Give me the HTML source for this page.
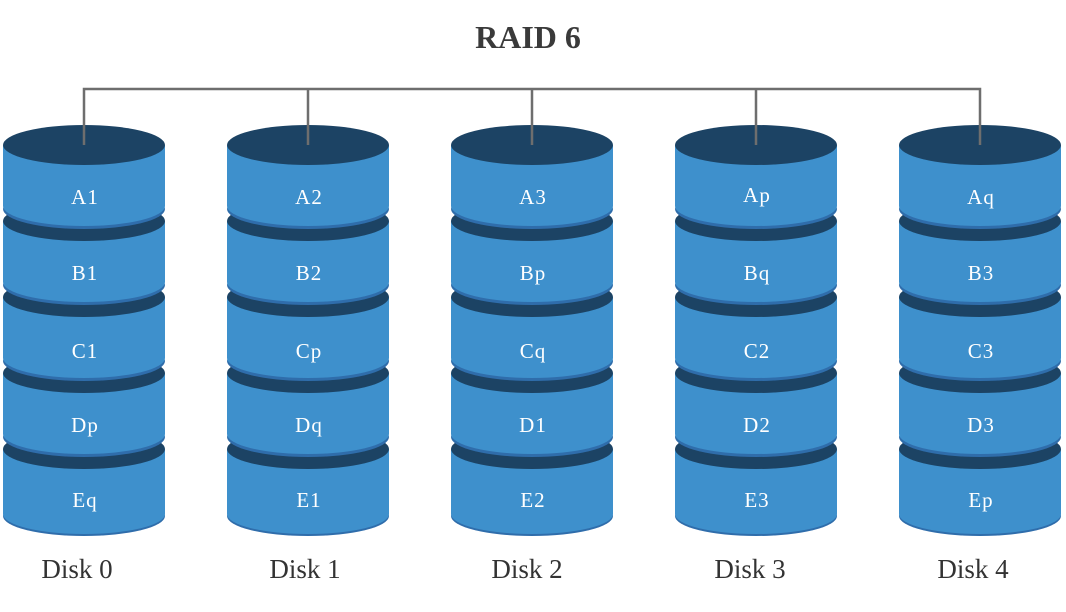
<!DOCTYPE html>
<html><head><meta charset="utf-8"><style>
html,body{margin:0;padding:0;background:#fff;}
svg{display:block;}
</style></head><body>
<svg width="1066" height="612" viewBox="0 0 1066 612" xmlns="http://www.w3.org/2000/svg">
<defs>
<g id="seg">
<ellipse cx="0" cy="64" rx="81" ry="20" fill="#2f6dab"/>
<path d="M-81,0 L-81,61 A81,20 0 0 0 81,61 L81,0 Z" fill="#3e90cc"/>
<ellipse cx="0" cy="0" rx="81" ry="20" fill="#1c4364"/>
</g>
<g id="segLast">
<ellipse cx="0" cy="67" rx="81" ry="20" fill="#2f6dab"/>
<path d="M-81,0 L-81,65 A81,20 0 0 0 81,65 L81,0 Z" fill="#3e90cc"/>
<ellipse cx="0" cy="0" rx="81" ry="20" fill="#1c4364"/>
</g>
<g id="disk">
<use href="#segLast" y="449"/>
<use href="#seg" y="373"/>
<use href="#seg" y="297"/>
<use href="#seg" y="221"/>
<use href="#seg" y="145"/>
</g>
</defs>
<text x="528" y="48" text-anchor="middle" font-family="Liberation Serif, serif" font-weight="bold" font-size="32" fill="#3a3a3a">RAID 6</text>
<use href="#disk" x="84"/>
<use href="#disk" x="308"/>
<use href="#disk" x="532"/>
<use href="#disk" x="756"/>
<use href="#disk" x="980"/>
<g stroke="#6e6e6e" stroke-width="2.5" fill="none">
<path d="M84,145 V89 H980 V145"/>
<path d="M308,89 V145 M532,89 V145 M756,89 V145"/>
</g>
<g font-family="Liberation Serif, serif" font-size="21" fill="#fff" text-anchor="middle" letter-spacing="1">
<text x="85" y="204">A1</text><text x="85" y="280">B1</text><text x="85" y="358">C1</text><text x="85" y="432">Dp</text><text x="85" y="507">Eq</text>
<text x="309" y="204">A2</text><text x="309" y="280">B2</text><text x="309" y="358">Cp</text><text x="309" y="432">Dq</text><text x="309" y="507">E1</text>
<text x="533" y="204">A3</text><text x="533" y="280">Bp</text><text x="533" y="358">Cq</text><text x="533" y="432">D1</text><text x="533" y="507">E2</text>
<text x="757" y="202">Ap</text><text x="757" y="280">Bq</text><text x="757" y="358">C2</text><text x="757" y="432">D2</text><text x="757" y="507">E3</text>
<text x="981" y="204">Aq</text><text x="981" y="280">B3</text><text x="981" y="358">C3</text><text x="981" y="432">D3</text><text x="981" y="507">Ep</text>
</g>
<g font-family="Liberation Serif, serif" font-size="27" fill="#333" text-anchor="middle">
<text x="77" y="578">Disk 0</text>
<text x="305" y="578">Disk 1</text>
<text x="527" y="578">Disk 2</text>
<text x="750" y="578">Disk 3</text>
<text x="973" y="578">Disk 4</text>
</g>
</svg>
</body></html>
